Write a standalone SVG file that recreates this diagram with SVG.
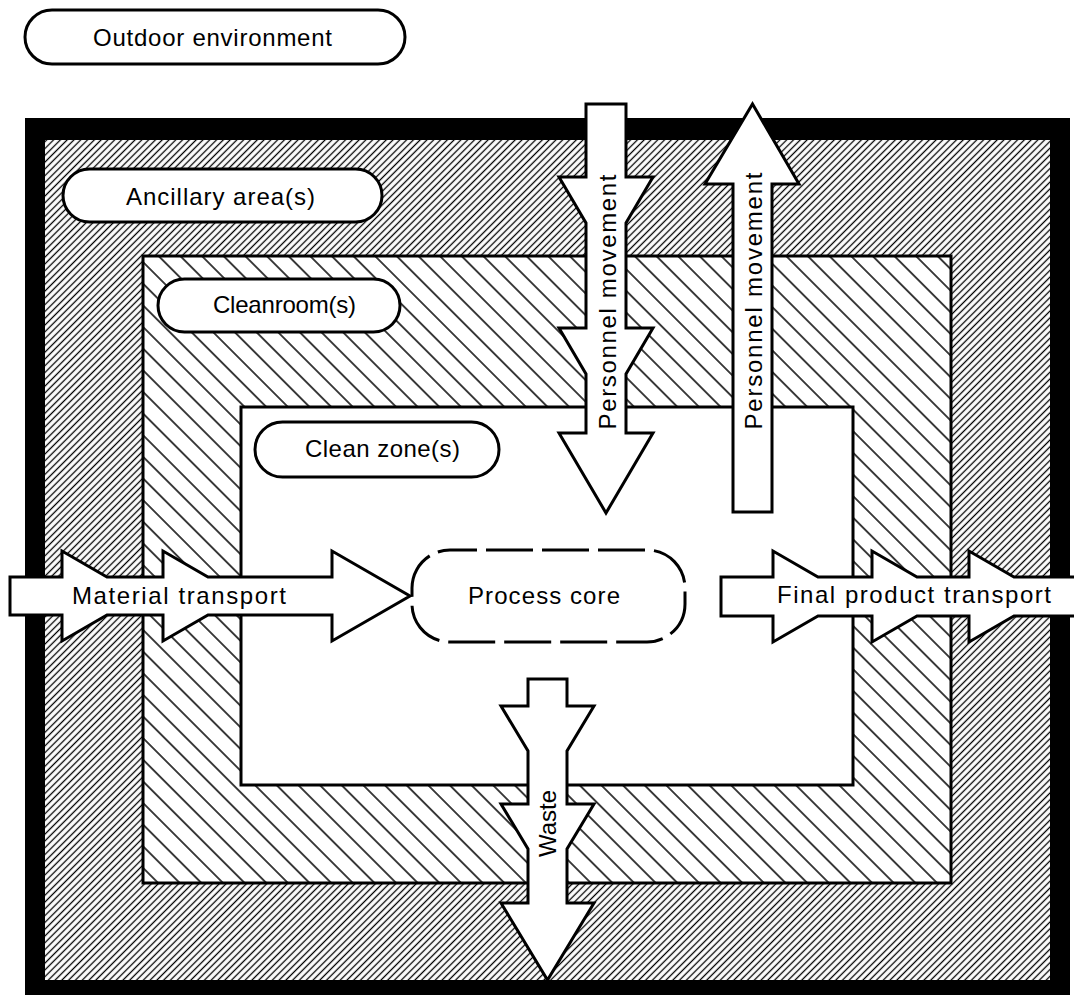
<svg xmlns="http://www.w3.org/2000/svg" width="1074" height="995" viewBox="0 0 1074 995">
<style>
.pill{fill:#fff;stroke:#000;stroke-width:3}
.zone{stroke:#000;stroke-width:3}
.arrow{fill:#fff;stroke:#000;stroke-width:3;stroke-linejoin:miter}
.lbl{font-family:"Liberation Sans",Arial,sans-serif;font-size:24px;fill:#000;text-anchor:middle}
</style>
<defs>
<pattern id="hatchFine" patternUnits="userSpaceOnUse" width="4.8" height="4.8" patternTransform="rotate(-45)">
<rect width="4.8" height="4.8" fill="#fff"/>
<line x1="0" y1="2.4" x2="4.8" y2="2.4" stroke="#000" stroke-width="1.3"/>
</pattern>
<pattern id="hatchCoarse" patternUnits="userSpaceOnUse" width="15.3" height="15.3" patternTransform="rotate(45)">
<rect width="15.3" height="15.3" fill="#fff"/>
<line x1="0" y1="7.65" x2="15.3" y2="7.65" stroke="#000" stroke-width="1.5"/>
</pattern>
</defs>
<rect width="1074" height="995" fill="#fff"/>
<g id="outdoor-environment">
<rect x="25" y="10" width="380" height="54" rx="27" class="pill"/>
<text x="212.5" y="46" class="lbl" textLength="239" lengthAdjust="spacing">Outdoor environment</text>
</g>
<g id="ancillary-area">
<rect x="25" y="118" width="1045" height="884" fill="#000"/>
<rect x="45" y="140" width="1005" height="840" fill="url(#hatchFine)"/>
<rect x="63" y="169" width="319" height="53" rx="26.5" class="pill"/>
<text x="220.5" y="205" class="lbl" textLength="189" lengthAdjust="spacing">Ancillary area(s)</text>
</g>
<g id="cleanroom">
<rect x="143" y="256" width="808" height="627" fill="url(#hatchCoarse)" class="zone"/>
<rect x="158" y="279" width="242" height="53" rx="26.5" class="pill"/>
<text x="284.5" y="313" class="lbl" textLength="143" lengthAdjust="spacing">Cleanroom(s)</text>
</g>
<g id="clean-zone">
<rect x="241" y="407" width="612" height="378" fill="#fff" class="zone"/>
<rect x="255" y="422" width="244" height="55" rx="27.5" class="pill"/>
<text x="382.5" y="457" class="lbl" textLength="155" lengthAdjust="spacing">Clean zone(s)</text>
</g>
<g id="process-core">
<rect x="412" y="550" width="273" height="92" rx="38" fill="#fff" stroke="#000" stroke-width="3" stroke-dasharray="47 9" stroke-dashoffset="20"/>
<text x="544" y="604" class="lbl" textLength="152" lengthAdjust="spacing">Process core</text>
</g>
<g id="connectors">
<g id="material-transport">
<path class="arrow" d="M10,577 H62 V551 L107,577 H163 V551 L208,577 H332 V551 L410,596 L332,641 V615 H208 L163,641 V615 H107 L62,641 V615 H10 Z"/>
<text x="179" y="604" class="lbl" textLength="214" lengthAdjust="spacing">Material transport</text>
</g>
<g id="final-product-transport">
<path class="arrow" d="M721,577 H773 V551 L818,577 H872 V551 L917,577 H969 V551 L1014,577 H1080 V616 H1014 L969,642 V616 H917 L872,642 V616 H818 L773,642 V616 H721 Z"/>
<text x="914" y="603" class="lbl" textLength="274" lengthAdjust="spacing">Final product transport</text>
</g>
<g id="personnel-in">
<path class="arrow" d="M586,104 H626 V177 H653 L626,223 V328 H653 L626,374 V433 H653 L606,513 L559,433 H586 V374 L559,328 H586 V223 L559,177 H586 Z"/>
<text transform="translate(616,302) rotate(-90)" class="lbl" textLength="255" lengthAdjust="spacing">Personnel movement</text>
</g>
<g id="personnel-out">
<path class="arrow" d="M733,512 V184 H705 L752.5,104 L799,184 H772 V512 Z"/>
<text transform="translate(762,301) rotate(-90)" class="lbl" textLength="257" lengthAdjust="spacing">Personnel movement</text>
</g>
<g id="waste">
<path class="arrow" d="M528,679 H567 V706 H594 L567,751 V804 H594 L567,849 V903 H594 L547.5,980 L501,903 H528 V849 L501,804 H528 V751 L501,706 H528 Z"/>
<text transform="translate(556,823.5) rotate(-90)" class="lbl" textLength="67" lengthAdjust="spacing">Waste</text>
</g>
</g>
</svg>
